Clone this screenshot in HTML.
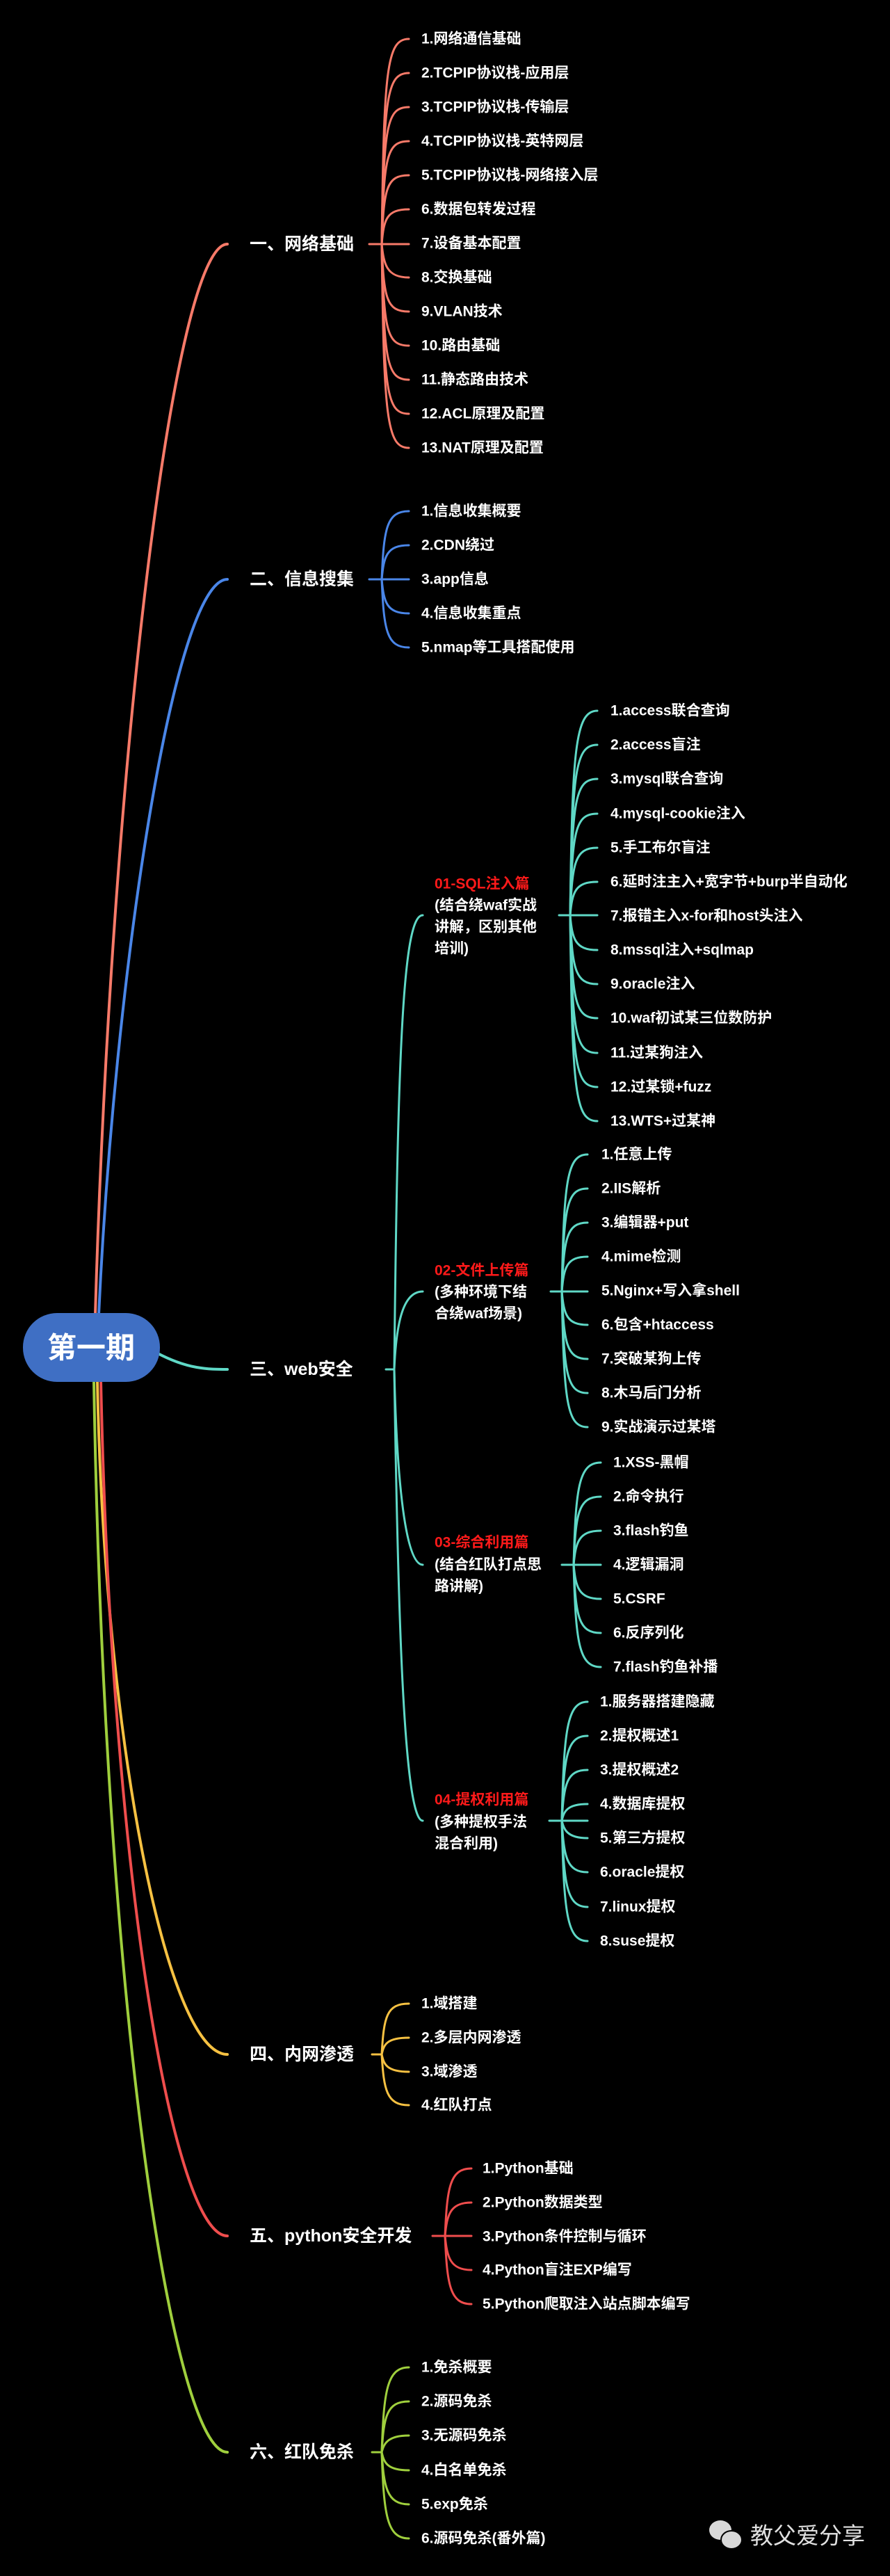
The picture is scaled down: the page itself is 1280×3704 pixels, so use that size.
<!DOCTYPE html>
<html><head><meta charset="utf-8"><style>
html,body{margin:0;padding:0;background:#000;}
svg{display:block}
text{font-family:"Liberation Sans","Noto Sans CJK SC",sans-serif;font-weight:bold;fill:#fff;dominant-baseline:central}
.i{font-size:21px}
.t{font-size:25px}
.r{fill:#ff1a1a}
path{fill:none;stroke-linecap:round}
</style></head><body>
<svg width="1280" height="3704" viewBox="0 0 1280 3704" xmlns="http://www.w3.org/2000/svg">
<rect width="1280" height="3704" fill="#000"/>

<!-- trunks from root -->
<path d="M137 1890 C160 1100 250 351 327 351" stroke="#f77a69" stroke-width="4"/>
<path d="M142 1890 C165 1400 250 833 327 833" stroke="#4a86e8" stroke-width="4"/>
<path d="M225 1945 C270 1969 300 1969 327 1969" stroke="#5fd8c6" stroke-width="4"/>
<path d="M140 1985 C150 2500 240 2954 327 2954" stroke="#f6c142" stroke-width="4"/>
<path d="M145 1985 C160 2700 250 3215 327 3215" stroke="#ef4d4d" stroke-width="4"/>
<path d="M135 1985 C150 2900 250 3526 327 3526" stroke="#9fcf3d" stroke-width="4"/>

<!-- root -->
<rect x="33" y="1888" width="197" height="99" rx="49" fill="#3f6fc4"/>
<text x="131" y="1938" text-anchor="middle" style="font-size:42px">第一期</text>

<!-- Section 1 -->
<g stroke="#f77a69" stroke-width="3">
<path d="M531 351 H588"/>
<path d="M549 351 C552 100 556 56 588 56"/><path d="M549 351 C552 140 556 105 588 105"/>
<path d="M549 351 C552 180 556 154 588 154"/><path d="M549 351 C552 225 556 203 588 203"/>
<path d="M549 351 C552 270 556 252 588 252"/><path d="M549 351 C552 315 556 301 588 301"/>
<path d="M549 351 C552 380 556 399 588 399"/><path d="M549 351 C552 430 556 448 588 448"/>
<path d="M549 351 C552 475 556 497 588 497"/><path d="M549 351 C552 520 556 546 588 546"/>
<path d="M549 351 C552 565 556 595 588 595"/><path d="M549 351 C552 600 556 644 588 644"/>
</g>
<text class="t" x="359" y="351">一、网络基础</text>
<g class="i">
<text class="i" x="606" y="56">1.网络通信基础</text>
<text class="i" x="606" y="105">2.TCPIP协议栈-应用层</text>
<text class="i" x="606" y="154">3.TCPIP协议栈-传输层</text>
<text class="i" x="606" y="203">4.TCPIP协议栈-英特网层</text>
<text class="i" x="606" y="252">5.TCPIP协议栈-网络接入层</text>
<text class="i" x="606" y="301">6.数据包转发过程</text>
<text class="i" x="606" y="350">7.设备基本配置</text>
<text class="i" x="606" y="399">8.交换基础</text>
<text class="i" x="606" y="448">9.VLAN技术</text>
<text class="i" x="606" y="497">10.路由基础</text>
<text class="i" x="606" y="546">11.静态路由技术</text>
<text class="i" x="606" y="595">12.ACL原理及配置</text>
<text class="i" x="606" y="644">13.NAT原理及配置</text>
</g>

<!-- Section 2 -->
<g stroke="#4a86e8" stroke-width="3">
<path d="M531 833 H588"/>
<path d="M549 833 C552 760 556 735 588 735"/><path d="M549 833 C552 800 556 784 588 784"/>
<path d="M549 833 C552 866 556 882 588 882"/><path d="M549 833 C552 906 556 931 588 931"/>
</g>
<text class="t" x="359" y="833">二、信息搜集</text>
<text class="i" x="606" y="735">1.信息收集概要</text>
<text class="i" x="606" y="784">2.CDN绕过</text>
<text class="i" x="606" y="833">3.app信息</text>
<text class="i" x="606" y="882">4.信息收集重点</text>
<text class="i" x="606" y="931">5.nmap等工具搭配使用</text>

<!-- Section 3 web -->
<g stroke="#5fd8c6" stroke-width="3">
<path d="M555 1969 H567"/>
<path d="M567 1969 C572 1500 580 1316 608 1316"/>
<path d="M567 1969 C570 1900 580 1857 608 1857"/>
<path d="M567 1969 C570 2100 580 2250 608 2250"/>
<path d="M567 1969 C572 2300 580 2618 608 2618"/>
<!-- SQL -->
<path d="M804 1316 H859"/>
<path d="M820 1316 C823 1080 827 1022 859 1022"/><path d="M820 1316 C823 1110 827 1071 859 1071"/>
<path d="M820 1316 C823 1150 827 1120 859 1120"/><path d="M820 1316 C823 1195 827 1170 859 1170"/>
<path d="M820 1316 C823 1240 827 1219 859 1219"/><path d="M820 1316 C823 1283 827 1268 859 1268"/>
<path d="M820 1316 C823 1350 827 1366 859 1366"/><path d="M820 1316 C823 1393 827 1415 859 1415"/>
<path d="M820 1316 C823 1440 827 1464 859 1464"/><path d="M820 1316 C823 1485 827 1514 859 1514"/>
<path d="M820 1316 C823 1530 827 1563 859 1563"/><path d="M820 1316 C823 1570 827 1612 859 1612"/>
<!-- File -->
<path d="M792 1857 H845"/>
<path d="M808 1857 C811 1700 815 1660 845 1660"/><path d="M808 1857 C811 1735 815 1709 845 1709"/>
<path d="M808 1857 C811 1780 815 1758 845 1758"/><path d="M808 1857 C811 1822 815 1807 845 1807"/>
<path d="M808 1857 C811 1890 815 1905 845 1905"/><path d="M808 1857 C811 1932 815 1954 845 1954"/>
<path d="M808 1857 C811 1975 815 2003 845 2003"/><path d="M808 1857 C811 2015 815 2052 845 2052"/>
<!-- 03 -->
<path d="M808 2250 H864"/>
<path d="M825 2250 C828 2140 832 2103 864 2103"/><path d="M825 2250 C828 2175 832 2152 864 2152"/>
<path d="M825 2250 C828 2218 832 2201 864 2201"/><path d="M825 2250 C828 2282 832 2299 864 2299"/>
<path d="M825 2250 C828 2325 832 2348 864 2348"/><path d="M825 2250 C828 2360 832 2397 864 2397"/>
<!-- 04 -->
<path d="M790 2618 H845"/>
<path d="M808 2618 C811 2490 815 2447 845 2447"/><path d="M808 2618 C811 2525 815 2496 845 2496"/>
<path d="M808 2618 C811 2565 815 2545 845 2545"/><path d="M808 2618 C811 2605 815 2594 845 2594"/>
<path d="M808 2618 C811 2630 815 2643 845 2643"/><path d="M808 2618 C811 2670 815 2692 845 2692"/>
<path d="M808 2618 C811 2710 815 2742 845 2742"/><path d="M808 2618 C811 2750 815 2791 845 2791"/>
</g>
<text class="t" x="359" y="1969">三、web安全</text>

<text class="i r" x="625" y="1271">01-SQL注入篇</text>
<text class="i" x="625" y="1302">(结合绕waf实战</text>
<text class="i" x="625" y="1333">讲解，区别其他</text>
<text class="i" x="625" y="1364">培训)</text>
<text class="i" x="878" y="1022">1.access联合查询</text>
<text class="i" x="878" y="1071">2.access盲注</text>
<text class="i" x="878" y="1120">3.mysql联合查询</text>
<text class="i" x="878" y="1170">4.mysql-cookie注入</text>
<text class="i" x="878" y="1219">5.手工布尔盲注</text>
<text class="i" x="878" y="1268">6.延时注主入+宽字节+burp半自动化</text>
<text class="i" x="878" y="1317">7.报错主入x-for和host头注入</text>
<text class="i" x="878" y="1366">8.mssql注入+sqlmap</text>
<text class="i" x="878" y="1415">9.oracle注入</text>
<text class="i" x="878" y="1464">10.waf初试某三位数防护</text>
<text class="i" x="878" y="1514">11.过某狗注入</text>
<text class="i" x="878" y="1563">12.过某锁+fuzz</text>
<text class="i" x="878" y="1612">13.WTS+过某神</text>

<text class="i r" x="625" y="1827">02-文件上传篇</text>
<text class="i" x="625" y="1858">(多种环境下结</text>
<text class="i" x="625" y="1889">合绕waf场景)</text>
<text class="i" x="865" y="1660">1.任意上传</text>
<text class="i" x="865" y="1709">2.IIS解析</text>
<text class="i" x="865" y="1758">3.编辑器+put</text>
<text class="i" x="865" y="1807">4.mime检测</text>
<text class="i" x="865" y="1856">5.Nginx+写入拿shell</text>
<text class="i" x="865" y="1905">6.包含+htaccess</text>
<text class="i" x="865" y="1954">7.突破某狗上传</text>
<text class="i" x="865" y="2003">8.木马后门分析</text>
<text class="i" x="865" y="2052">9.实战演示过某塔</text>

<text class="i r" x="625" y="2218">03-综合利用篇</text>
<text class="i" x="625" y="2250">(结合红队打点思</text>
<text class="i" x="625" y="2281">路讲解)</text>
<text class="i" x="882" y="2103">1.XSS-黑帽</text>
<text class="i" x="882" y="2152">2.命令执行</text>
<text class="i" x="882" y="2201">3.flash钓鱼</text>
<text class="i" x="882" y="2250">4.逻辑漏洞</text>
<text class="i" x="882" y="2299">5.CSRF</text>
<text class="i" x="882" y="2348">6.反序列化</text>
<text class="i" x="882" y="2397">7.flash钓鱼补播</text>

<text class="i r" x="625" y="2588">04-提权利用篇</text>
<text class="i" x="625" y="2620">(多种提权手法</text>
<text class="i" x="625" y="2651">混合利用)</text>
<text class="i" x="863" y="2447">1.服务器搭建隐藏</text>
<text class="i" x="863" y="2496">2.提权概述1</text>
<text class="i" x="863" y="2545">3.提权概述2</text>
<text class="i" x="863" y="2594">4.数据库提权</text>
<text class="i" x="863" y="2643">5.第三方提权</text>
<text class="i" x="863" y="2692">6.oracle提权</text>
<text class="i" x="863" y="2742">7.linux提权</text>
<text class="i" x="863" y="2791">8.suse提权</text>

<!-- Section 4 -->
<g stroke="#f6c142" stroke-width="3">
<path d="M535 2954 H549"/>
<path d="M549 2954 C552 2900 556 2881 588 2881"/><path d="M549 2954 C552 2940 556 2930 588 2930"/>
<path d="M549 2954 C552 2968 556 2979 588 2979"/><path d="M549 2954 C552 3005 556 3027 588 3027"/>
</g>
<text class="t" x="359" y="2954">四、内网渗透</text>
<text class="i" x="606" y="2881">1.域搭建</text>
<text class="i" x="606" y="2930">2.多层内网渗透</text>
<text class="i" x="606" y="2979">3.域渗透</text>
<text class="i" x="606" y="3027">4.红队打点</text>

<!-- Section 5 -->
<g stroke="#ef4d4d" stroke-width="3">
<path d="M622 3215 H678"/>
<path d="M640 3215 C643 3145 647 3118 678 3118"/><path d="M640 3215 C643 3185 647 3167 678 3167"/>
<path d="M640 3215 C643 3245 647 3264 678 3264"/><path d="M640 3215 C643 3285 647 3313 678 3313"/>
</g>
<text class="t" x="359" y="3215">五、python安全开发</text>
<text class="i" x="694" y="3118">1.Python基础</text>
<text class="i" x="694" y="3167">2.Python数据类型</text>
<text class="i" x="694" y="3216">3.Python条件控制与循环</text>
<text class="i" x="694" y="3264">4.Python盲注EXP编写</text>
<text class="i" x="694" y="3313">5.Python爬取注入站点脚本编写</text>

<!-- Section 6 -->
<g stroke="#9fcf3d" stroke-width="3">
<path d="M535 3526 H549"/>
<path d="M549 3526 C552 3440 556 3404 588 3404"/><path d="M549 3526 C552 3475 556 3453 588 3453"/>
<path d="M549 3526 C552 3515 556 3502 588 3502"/><path d="M549 3526 C552 3540 556 3552 588 3552"/>
<path d="M549 3526 C552 3575 556 3601 588 3601"/><path d="M549 3526 C552 3615 556 3650 588 3650"/>
</g>
<text class="t" x="359" y="3526">六、红队免杀</text>
<text class="i" x="606" y="3404">1.免杀概要</text>
<text class="i" x="606" y="3453">2.源码免杀</text>
<text class="i" x="606" y="3502">3.无源码免杀</text>
<text class="i" x="606" y="3552">4.白名单免杀</text>
<text class="i" x="606" y="3601">5.exp免杀</text>
<text class="i" x="606" y="3650">6.源码免杀(番外篇)</text>

<!-- watermark -->
<g fill="#d8d8d8">
<ellipse cx="1036" cy="3638" rx="16" ry="14"/>
<ellipse cx="1052" cy="3652" rx="15" ry="13" stroke="#000" stroke-width="2"/>
</g>
<text x="1079" y="3646" style="font-size:33px;font-weight:normal;fill:#e0e0e0">教父爱分享</text>
</svg>
</body></html>
